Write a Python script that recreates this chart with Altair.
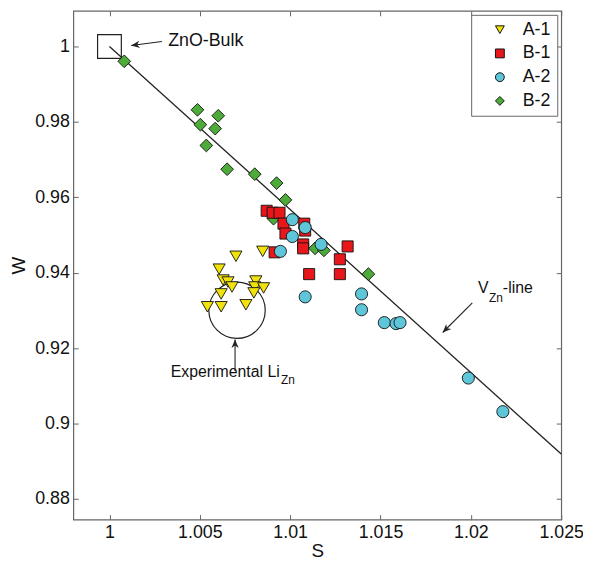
import altair as alt
import pandas as pd

FONT = "Liberation Sans"

series_names = ["A-1", "B-1", "A-2", "B-2"]
series_colors = ["#f2e20c", "#e8171b", "#5ec6d8", "#4dab3a"]
series_outline = ["#111111", "#111111", "#111111", "#111111"]
series_shapes = ["triangle-down", "square", "circle", "diamond"]
series_sizes = {"A-1": 150, "B-1": 125, "A-2": 150, "B-2": 165}

a1_s = [1.00700, 1.00848, 1.00607, 1.00629, 1.00656, 1.00678, 1.00618,
        1.00810, 1.00804, 1.00853, 1.00799, 1.00542, 1.00618, 1.00755]
a1_w = [0.94436, 0.94567, 0.94094, 0.93806, 0.93753, 0.93622, 0.93438,
        0.93780, 0.93622, 0.93596, 0.93465, 0.93097, 0.93097, 0.93150]

b1_s = [1.00870, 1.00903, 1.00941, 1.00963, 1.00974, 1.01078, 1.01083,
        1.01072, 1.01072, 1.00914, 1.01318, 1.01275, 1.01105, 1.01275]
b1_w = [0.95643, 0.95591, 0.95591, 0.95302, 0.95039, 0.95302, 0.95118,
        0.94751, 0.94646, 0.94541, 0.94698, 0.94357, 0.93963, 0.93963]

a2_s = [1.01012, 1.01083, 1.01012, 1.01171, 1.00946, 1.01083, 1.01395,
        1.01395, 1.01521, 1.01586, 1.01608, 1.01986, 1.02177]
a2_w = [0.95407, 0.95197, 0.94961, 0.94751, 0.94567, 0.93360, 0.93438,
        0.93018, 0.92677, 0.92651, 0.92677, 0.91207, 0.90315]

b2_s = [1.00082, 1.00487, 1.00503, 1.00602, 1.00585, 1.00536, 1.00651,
        1.00804, 1.00925, 1.00974, 1.00908, 1.01138, 1.01187, 1.01433]
b2_w = [0.99606, 0.98320, 0.97927, 0.98163, 0.97822, 0.97375, 0.96745,
        0.96614, 0.96378, 0.95932, 0.95433, 0.94646, 0.94593, 0.93963]

vzn_line_s = [1.0, 1.025]
vzn_line_w = [1.0, 0.8919]

x_ticks = [1.0, 1.005, 1.01, 1.015, 1.02, 1.025]
y_ticks = [0.88, 0.90, 0.92, 0.94, 0.96, 0.98, 1.0]
x_domain = [0.998, 1.025]
y_domain = [0.87454, 1.00945]

# annotations
bulk_s, bulk_w = [1.0], [1.0]
exp_circle_s, exp_circle_w = [1.00706], [0.93005]
arrow_s = [1.00290, 1.00695, 1.02008]
arrow_w = [1.00131, 0.91391, 0.93202]
arrow_s2 = [1.00120, 1.00695, 1.01844]
arrow_w2 = [1.00026, 0.92231, 0.92415]
arrow_angle = [172.6, 270, 135]

label_text = ["ZnO-Bulk", "Experimental Li", "V", "-line"]
label_s = [1.00325, 1.00339, 1.02040, 1.02177]
label_w = [1.00026, 0.91234, 0.93465, 0.93465]
sub_text = ["Zn", "Zn"]
sub_s = [1.00949, 1.02100]
sub_w = [0.91050, 0.93228]

frames = []
for name, s, w in [("B-2", b2_s, b2_w), ("B-1", b1_s, b1_w),
                   ("A-2", a2_s, a2_w), ("A-1", a1_s, a1_w)]:
    frames.append(pd.DataFrame({"S": s, "W": w, "series": name,
                                "sz": series_sizes[name]}))
pts = pd.concat(frames, ignore_index=True)

xs = alt.Scale(domain=x_domain, nice=False, zero=False)
ys = alt.Scale(domain=y_domain, nice=False, zero=False)

x_bottom = alt.Axis(values=x_ticks, format="~g", title="S", offset=-5, tickSize=5,
                    labelPadding=4, domain=False, grid=False, tickColor="#666",
                    labelFontSize=18, titleFontSize=19, titlePadding=0,
                    labelColor="#111", titleColor="#111", titleFontWeight="normal",
                    labelFlush=False, labelFont=FONT, titleFont=FONT)
y_left = alt.Axis(values=y_ticks, format="~g", title="W", offset=-5, tickSize=5,
                  labelPadding=4, domain=False, grid=False, tickColor="#666",
                  labelFontSize=18, titleFontSize=19, titlePadding=6,
                  labelColor="#111", titleColor="#111", titleFontWeight="normal",
                  labelFlush=False, labelFont=FONT, titleFont=FONT)
x_top = alt.Axis(orient="top", values=x_ticks, labels=False, title=None, offset=-5,
                 tickSize=5, domain=False, grid=False, tickColor="#666")
y_right = alt.Axis(orient="right", values=y_ticks, labels=False, title=None, offset=-5,
                   tickSize=5, domain=False, grid=False, tickColor="#666")

line = alt.Chart(pd.DataFrame({"S": vzn_line_s, "W": vzn_line_w})).mark_line(
    color="#222", strokeWidth=1.3
).encode(
    x=alt.X("S:Q", scale=xs, axis=x_top),
    y=alt.Y("W:Q", scale=ys, axis=y_right),
)

legend = alt.Legend(orient="top-right", title=None)

points = alt.Chart(pts).mark_point(
    filled=True, opacity=1
).encode(
    x=alt.X("S:Q", scale=xs, axis=x_bottom),
    y=alt.Y("W:Q", scale=ys, axis=y_left),
    fill=alt.Fill("series:N", scale=alt.Scale(domain=series_names, range=series_colors),
                  legend=legend),
    shape=alt.Shape("series:N", scale=alt.Scale(domain=series_names, range=series_shapes),
                    legend=legend),
    stroke=alt.Stroke("series:N", scale=alt.Scale(domain=series_names, range=series_outline),
                      legend=legend),
    size=alt.Size("sz:Q", scale=None),
    strokeWidth=alt.value(0.9),
)

bulk_box = alt.Chart(pd.DataFrame({"S": bulk_s, "W": bulk_w})).mark_point(
    shape="square", size=576, filled=False, stroke="#222", strokeWidth=1.2, opacity=1
).encode(
    x=alt.X("S:Q", scale=xs, axis=None),
    y=alt.Y("W:Q", scale=ys, axis=None),
)

exp_circle = alt.Chart(pd.DataFrame({"S": exp_circle_s, "W": exp_circle_w})).mark_point(
    shape="circle", size=3249, filled=False, stroke="#222", strokeWidth=1.2, opacity=1
).encode(
    x=alt.X("S:Q", scale=xs, axis=None),
    y=alt.Y("W:Q", scale=ys, axis=None),
)

arrows_df = pd.DataFrame({"S": arrow_s, "W": arrow_w, "S2": arrow_s2, "W2": arrow_w2,
                          "ang": arrow_angle})
arrow_lines = alt.Chart(arrows_df).mark_rule(color="#222", strokeWidth=1.1).encode(
    x=alt.X("S:Q", scale=xs, axis=None),
    y=alt.Y("W:Q", scale=ys, axis=None),
    x2="S2:Q",
    y2="W2:Q",
)
arrow_heads = alt.Chart(arrows_df).mark_point(
    shape="M0,0L-1,-0.42L-0.7,0L-1,0.42Z", filled=True, fill="#222", size=300, opacity=1
).encode(
    x=alt.X("S2:Q", scale=xs, axis=None),
    y=alt.Y("W2:Q", scale=ys, axis=None),
    angle=alt.Angle("ang:Q", scale=None),
)

bulk_label = alt.Chart(pd.DataFrame({"S": [label_s[0]], "W": [label_w[0]],
                                     "t": [label_text[0]]})).mark_text(
    align="left", baseline="alphabetic", fontSize=18, font=FONT, color="#111"
).encode(
    x=alt.X("S:Q", scale=xs, axis=None),
    y=alt.Y("W:Q", scale=ys, axis=None),
    text="t:N",
)
other_labels = alt.Chart(pd.DataFrame({"S": label_s[1:], "W": label_w[1:],
                                       "t": label_text[1:]})).mark_text(
    align="left", baseline="alphabetic", fontSize=16, font=FONT, color="#111"
).encode(
    x=alt.X("S:Q", scale=xs, axis=None),
    y=alt.Y("W:Q", scale=ys, axis=None),
    text="t:N",
)
subs = alt.Chart(pd.DataFrame({"S": sub_s, "W": sub_w, "t": sub_text})).mark_text(
    align="left", baseline="alphabetic", fontSize=12, font=FONT, color="#111"
).encode(
    x=alt.X("S:Q", scale=xs, axis=None),
    y=alt.Y("W:Q", scale=ys, axis=None),
    text="t:N",
)

chart = alt.layer(
    line, bulk_box, exp_circle, arrow_lines, arrow_heads, points,
    bulk_label, other_labels, subs
).resolve_axis(
    x="independent", y="independent"
).properties(
    width=493, height=514,
    autosize=alt.AutoSizeParams(type="none"),
    padding={"left": 66, "top": 0, "right": 22, "bottom": 40},
).configure(
    font=FONT
).configure_view(
    stroke="#666", strokeWidth=1.2
).configure_legend(
    offset=4, strokeColor="#666", fillColor="white",
    padding=6, rowPadding=6, labelOffset=14, symbolOffset=14,
    labelFontSize=18, labelFont=FONT, labelColor="#111",
    symbolStrokeWidth=1, symbolSize=80,
)

chart.save("out.html", embed_options={"renderer": "svg", "actions": False})
